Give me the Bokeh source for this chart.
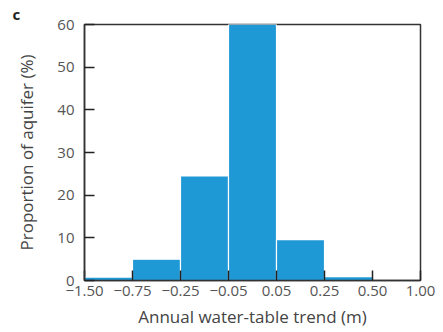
from bokeh.plotting import figure
from bokeh.models import Range1d, FixedTicker
from bokeh.embed import file_html
from bokeh.resources import INLINE

bin_edges = ["−1.50", "−0.75", "−0.25", "−0.05", "0.05", "0.25", "0.50", "1.00"]
proportion = [0.8, 5.0, 24.5, 60.0, 9.6, 0.9, 0.0]
y_ticks = [0, 10, 20, 30, 40, 50, 60]

FONT = "Open Sans"

p = figure(width=443, height=332, output_backend="svg", toolbar_location=None,
           x_range=Range1d(0, len(proportion)), y_range=Range1d(0, 60),
           min_border_left=84, min_border_right=23, min_border_top=23, min_border_bottom=52,
           title="c")

p.title.align = "left"
p.title.offset = -72
p.title.text_font = FONT
p.title.text_font_size = "15px"
p.title.text_font_style = "bold"
p.title.text_color = "#222222"
p.title.standoff = 2

lefts = list(range(len(proportion)))
rights = [i + 1 for i in lefts]
p.quad(left=lefts, right=rights, bottom=0, top=proportion,
       fill_color="#1f98d6", line_color="white", line_width=1.2)

p.xgrid.visible = False
p.ygrid.visible = False
p.outline_line_color = "#333333"
p.outline_line_width = 1.5

for ax in (p.xaxis[0], p.yaxis[0]):
    ax.major_tick_in = 10
    ax.major_tick_out = 0
    ax.minor_tick_line_color = None
    ax.axis_line_color = "#333333"
    ax.axis_line_width = 1.5
    ax.major_tick_line_color = "#222222"
    ax.major_tick_line_width = 1.5
    ax.major_label_text_font = FONT
    ax.major_label_text_font_size = "15px"
    ax.major_label_text_color = "#555555"
    ax.axis_label_text_font = FONT
    ax.axis_label_text_font_size = "17px"
    ax.axis_label_text_color = "#444444"
    ax.axis_label_text_font_style = "normal"

p.xaxis.ticker = FixedTicker(ticks=list(range(len(bin_edges))))
p.xaxis.major_label_overrides = {i: s for i, s in enumerate(bin_edges)}
p.xaxis.major_label_standoff = 5
p.xaxis.axis_label = "Annual water-table trend (m)"
p.xaxis.axis_label_standoff = 6

p.yaxis.ticker = FixedTicker(ticks=y_ticks)
p.yaxis.major_label_standoff = 10
p.yaxis.axis_label = "Proportion of aquifer (%)"
p.yaxis.axis_label_standoff = 16

open("out.html", "w").write(file_html(p, INLINE))
